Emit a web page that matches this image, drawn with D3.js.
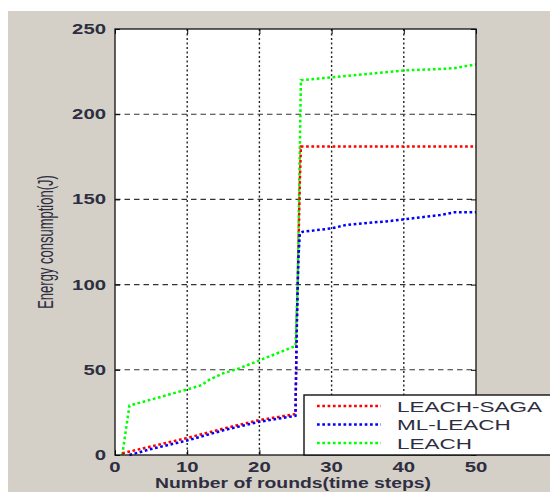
<!DOCTYPE html>
<html>
<head>
<meta charset="utf-8">
<script src="https://cdn.jsdelivr.net/npm/d3@7"></script>
<style>
  body { margin: 0; background: #fff; }
  text { font-family: "Liberation Sans", Arial, sans-serif; fill: #2e2e40; }
</style>
</head>
<body>
<div id="chart"></div>
<script>
// series (x = round, y = energy in J)
var sagaX  = [1, 3, 5, 10, 15, 20, 25, 25.05, 25.2, 25.4, 25.6, 25.75, 26, 50];
var sagaY  = [1, 3, 5, 10, 15.5, 20.5, 24, 40, 80, 120, 160, 181, 181, 181];
var mlX    = [2, 5, 10, 15, 20, 25, 25.05, 25.2, 25.4, 25.6, 26, 30, 32, 38, 40, 45, 47, 50];
var mlY    = [0, 3.5, 8.5, 14.5, 19.5, 23, 40, 80, 115, 130, 131, 133, 135, 137.3, 138.3, 140.8, 142.4, 142.5];
var leachX = [1, 2, 5, 10, 12, 13, 15, 17, 20, 25, 25.3, 25.6, 25.75, 30, 40, 45, 47, 50];
var leachY = [0, 29, 32.5, 38.5, 41, 44, 48, 50.5, 55.5, 64, 100, 180, 220, 221.6, 225.7, 226.5, 227, 229.3];

var seriesNames = ["LEACH-SAGA", "ML-LEACH", "LEACH"];
var seriesColors = ["#ff0000", "#0000ff", "#00ff00"];
var xTicks = [0, 10, 20, 30, 40, 50];
var yTicks = [0, 50, 100, 150, 200, 250];

var W = 550, H = 492;
var pLeft = 115, pRight = 476, pTop = 29, pBottom = 455;
var SX = 1.45; // the picture is stretched sideways

var svg = d3.select("#chart").append("svg")
    .attr("width", W)
    .attr("height", H);

// grey figure background
svg.append("rect")
    .attr("x", 8).attr("y", 11)
    .attr("width", W - 8).attr("height", H - 11)
    .attr("fill", "#d4d0c8");

var x = d3.scaleLinear().domain([0, 50]).range([pLeft, pRight]);
var y = d3.scaleLinear().domain([0, 250]).range([pBottom, pTop]);

// plot area
svg.append("rect")
    .attr("x", pLeft).attr("y", pTop)
    .attr("width", pRight - pLeft).attr("height", pBottom - pTop)
    .attr("fill", "#fff");

// vertical grid (dotted)
svg.append("g")
    .selectAll("line")
    .data(xTicks.slice(1, -1))
    .enter().append("line")
    .attr("x1", d => x(d)).attr("x2", d => x(d))
    .attr("y1", pTop).attr("y2", pBottom)
    .attr("stroke", "#222")
    .attr("stroke-width", 1.4)
    .attr("stroke-dasharray", "2,2.5");

// horizontal grid (dashed)
svg.append("g")
    .selectAll("line")
    .data(yTicks.slice(1, -1))
    .enter().append("line")
    .attr("x1", pLeft).attr("x2", pRight)
    .attr("y1", d => y(d)).attr("y2", d => y(d))
    .attr("stroke", "#333")
    .attr("stroke-width", 1.1)
    .attr("stroke-dasharray", "5.5,4");

// axes with inward ticks, plus mirrored ticks on top/right
function noLabels(g) {
    g.selectAll("text").remove();
    g.select(".domain").remove();
    g.selectAll("line").attr("stroke", "#000");
}
svg.append("g")
    .attr("transform", "translate(0," + pBottom + ")")
    .call(d3.axisBottom(x).tickValues(xTicks).tickSize(-5))
    .call(noLabels);
svg.append("g")
    .attr("transform", "translate(0," + pTop + ")")
    .call(d3.axisTop(x).tickValues(xTicks).tickSize(-5))
    .call(noLabels);
svg.append("g")
    .attr("transform", "translate(" + pLeft + ",0)")
    .call(d3.axisLeft(y).tickValues(yTicks).tickSize(-5))
    .call(noLabels);
svg.append("g")
    .attr("transform", "translate(" + pRight + ",0)")
    .call(d3.axisRight(y).tickValues(yTicks).tickSize(-5))
    .call(noLabels);

// lines
var seriesX = [sagaX, mlX, leachX];
var seriesY = [sagaY, mlY, leachY];
var line = d3.line()
    .x(d => x(d[0]))
    .y(d => y(d[1]));

// draw LEACH first so the red/blue sit on top where they overlap
[2, 0, 1].forEach(function(i) {
    var pts = seriesX[i].map((v, j) => [v, seriesY[i][j]]);
    svg.append("path")
        .datum(pts)
        .attr("fill", "none")
        .attr("stroke", seriesColors[i])
        .attr("stroke-width", 2.5)
        .attr("stroke-dasharray", "2.7,2.6")
        .attr("d", line);
});

// plot box
svg.append("rect")
    .attr("x", pLeft).attr("y", pTop)
    .attr("width", pRight - pLeft).attr("height", pBottom - pTop)
    .attr("fill", "none")
    .attr("stroke", "#111")
    .attr("stroke-width", 1.3);

// stretch text sideways like the picture
function stretch(t, k) {
    t.each(function() {
        var len = this.getComputedTextLength();
        d3.select(this)
            .attr("textLength", len * k)
            .attr("lengthAdjust", "spacingAndGlyphs");
    });
}

// tick labels
svg.append("g")
    .selectAll("text")
    .data(xTicks)
    .enter().append("text")
    .attr("x", d => x(d))
    .attr("y", 472)
    .attr("text-anchor", "middle")
    .style("font-size", "14px")
    .style("font-weight", "bold")
    .text(d => d)
    .call(stretch, SX);

svg.append("g")
    .selectAll("text")
    .data(yTicks)
    .enter().append("text")
    .attr("x", 106)
    .attr("y", d => y(d) + 5)
    .attr("text-anchor", "end")
    .style("font-size", "14px")
    .style("font-weight", "bold")
    .text(d => d)
    .call(stretch, SX);

// axis titles
svg.append("text")
    .attr("x", 293)
    .attr("y", 488)
    .attr("text-anchor", "middle")
    .style("font-size", "14px")
    .style("font-weight", "bold")
    .text("Number of rounds(time steps)")
    .call(stretch, 1.38);

svg.append("text")
    .attr("transform", "translate(53,242) scale(1.7,1) rotate(-90)")
    .attr("text-anchor", "middle")
    .style("font-size", "13px")
    .text("Energy consumption(J)");

// legend
var legend = svg.append("g");
legend.append("rect")
    .attr("x", 304).attr("y", 395)
    .attr("width", 260).attr("height", pBottom - 395)
    .attr("fill", "#fff")
    .attr("stroke", "#111")
    .attr("stroke-width", 1.4);

var legendY = [406, 424.5, 443];
seriesNames.forEach(function(name, i) {
    legend.append("line")
        .attr("x1", 317).attr("x2", 381)
        .attr("y1", legendY[i]).attr("y2", legendY[i])
        .attr("stroke", seriesColors[i])
        .attr("stroke-width", 2.5)
        .attr("stroke-dasharray", "2.7,2.6");
    legend.append("text")
        .attr("x", 397)
        .attr("y", legendY[i] + 5.5)
        .style("font-size", "15px")
        .text(name)
        .call(stretch, 1.5);
});
</script>
</body>
</html>
